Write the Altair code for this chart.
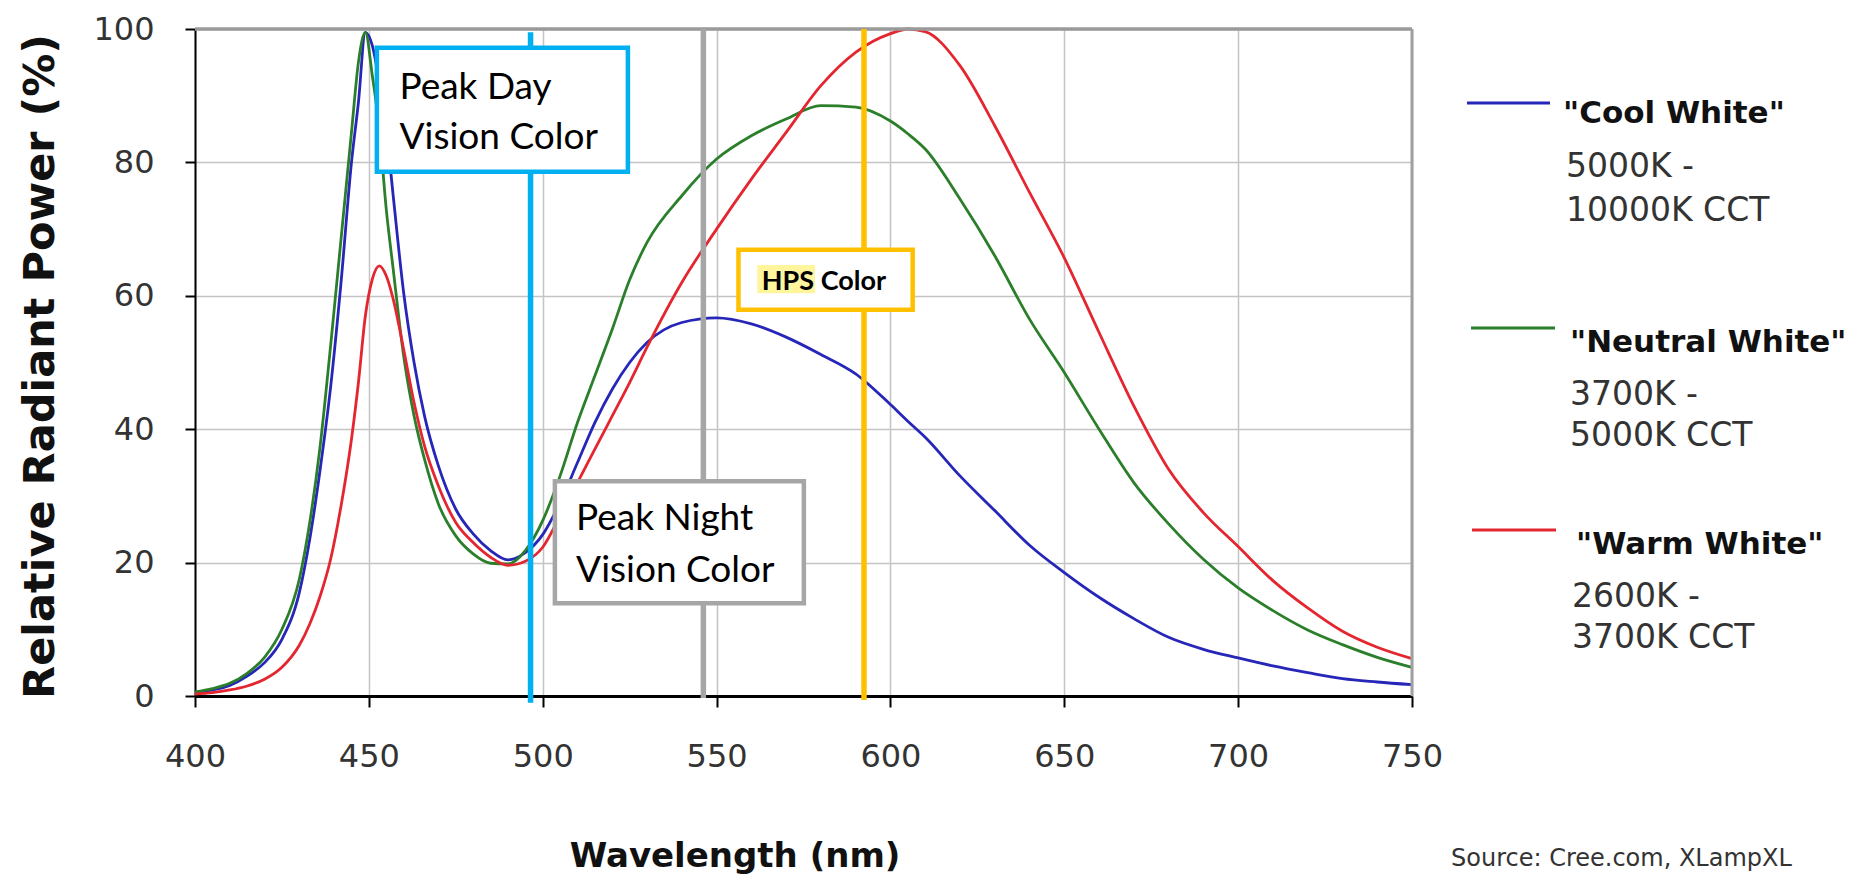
import altair as alt
import pandas as pd

# ---------------- data ----------------
wavelength = [400, 405, 410, 415, 420, 425, 430, 433, 436, 439, 442, 445, 447, 449,
              451, 453, 455, 457, 460, 463, 466, 470, 475, 480, 485, 490, 495, 500,
              505, 510, 515, 520, 525, 530, 540, 550, 560, 570, 580, 590, 600, 605,
              610, 620, 630, 640, 650, 660, 670, 680, 690, 700, 710, 720, 730, 740, 750]

cool_white = [0.5, 0.9, 1.6, 3.0, 5.0, 8.5, 15.5, 23.5, 34, 46.3, 62, 80, 89, 99.5,
              97.5, 92, 85, 75, 60.5, 50, 42, 34.5, 28, 24.3, 21.8, 20.4, 21.5, 24.2,
              29, 35, 41, 46, 50, 53, 56, 56.7, 55.8, 53.8, 51.2, 48.3, 43.7, 41.2,
              38.8, 33, 27.8, 22.6, 18.5, 14.8, 11.6, 8.8, 7.0, 5.7, 4.5, 3.5, 2.6, 2.1, 1.7]

neutral_white = [0.6, 1.1, 1.9, 3.4, 5.8, 10, 17.5, 26, 37.5, 52.5, 68.5, 84.5, 95, 99.5,
                 93, 85, 73, 64, 51, 42, 35.5, 28.8, 24, 21.3, 19.9, 19.8, 21.8, 26.3,
                 33, 41, 48, 55, 62.4, 68, 75, 80.5, 84, 86.5, 88.5, 88.3, 86.2, 84.3,
                 82, 74.5, 66, 56.5, 48.5, 40, 32, 25.8, 20.5, 16.2, 12.8, 9.9, 7.7, 5.8, 4.3]

warm_white = [0.3, 0.5, 0.9, 1.5, 2.5, 4.3, 7.6, 10.8, 15, 20.5, 28.5, 38.5, 47, 57,
              62.5, 64.5, 63, 59.5, 52, 44, 37.5, 31.5, 26, 23, 20.8, 19.6, 20.2, 22.3,
              27, 32, 37, 42, 47, 52.3, 62, 70, 77.5, 84.5, 91.5, 96.5, 99.3, 100,
              99.6, 94.5, 85.5, 75.5, 65.7, 54.5, 43.5, 34, 27.5, 22.4, 17.3, 13.2, 9.7, 7.3, 5.6]

series_names = ['"Cool White"', '"Neutral White"', '"Warm White"']
series_desc = ["5000K -\n10000K CCT", "3700K -\n5000K CCT", "2600K -\n3700K CCT"]
series_colors = ["#2626B8", "#2B7F2B", "#E3262F"]

x_ticks = [400, 450, 500, 550, 600, 650, 700, 750]
y_ticks = [0, 20, 40, 60, 80, 100]

# reference wavelength markers
marker_wl = [496.5, 546.2, 592.4]
marker_top = [99.5, 100, 100]
marker_bottom = [-1.0, -0.3, -0.6]
marker_colors = ["#00B0F0", "#A6A6A6", "#FFC000"]

# annotation boxes (data coordinates)
box_labels = ["Peak Day\nVision Color", "Peak Night\nVision Color", "HPS Color"]
box_x1 = [452.3, 503.5, 556.3]
box_x2 = [524.5, 575.1, 606.4]
box_y1 = [97.2, 32.2, 66.9]
box_y2 = [78.6, 13.9, 57.9]
label_x = [458.8, 509.6, 563.0]
label_y = [89.5, 24.9, 60.9]
hps_hl_x = [561.7, 578.3]
hps_hl_y = [64.6, 60.4]

source_text = "Source: Cree.com, XLampXL"

# ---------------- layout constants ----------------
PLOT_W, PLOT_H = 1217, 667
legend_line_x1 = [1272, 1276, 1277]
legend_line_x2 = [1355, 1360, 1361]
legend_line_y = [74, 299, 501]
legend_title_x = [1368, 1375, 1381]
legend_title_y = [93.6, 322.5, 525]
legend_sub_x = [1371, 1375, 1377]
legend_sub_y = [148, 376, 578]
legend_sub_lh = [44, 41, 41]

# ---------------- data table ----------------
rows = []
for name, vals in zip(series_names, [cool_white, neutral_white, warm_white]):
    for w, v in zip(wavelength, vals):
        rows.append({"wl": w, "val": v, "series": name})
df = pd.DataFrame(rows)

xscale = alt.Scale(domain=[400, 750], nice=False, zero=False)
yscale = alt.Scale(domain=[0, 100], nice=False, zero=False)

xaxis = alt.Axis(values=x_ticks, grid=True, gridColor="#C4C4C4", gridWidth=1.5,
                 domainColor="black", domainWidth=3, tickColor="black", tickWidth=2,
                 tickSize=11, labelFont="DejaVu Sans", labelFontSize=32, labelColor="#333333",
                 labelPadding=34, labelFlush=False, labelOverlap=False,
                 titleFont="DejaVu Sans", titleFontWeight="bold", titleFontSize=34,
                 titleColor="#111111", titleX=539.5, titleY=170, titleBaseline="alphabetic",
                 titleAlign="center")
yaxis = alt.Axis(values=y_ticks, grid=True, gridColor="#C4C4C4", gridWidth=1.5,
                 domainColor="black", domainWidth=2, tickColor="black", tickWidth=2,
                 tickSize=10, labelFont="DejaVu Sans", labelFontSize=32, labelColor="#333333",
                 labelPadding=31, labelFlush=False, labelOverlap=False,
                 titleFont="DejaVu Sans", titleFontWeight="bold", titleFontSize=43,
                 titleColor="#111111", titleX=-142, titleY=337, titleAngle=270,
                 titleBaseline="alphabetic", titleAlign="center")

XT = "Wavelength (nm)"
YT = "Relative Radiant Power (%)"


def X(f="wl"):
    return alt.X(f"{f}:Q", scale=xscale, axis=xaxis, title=XT)


def Y(f="val"):
    return alt.Y(f"{f}:Q", scale=yscale, axis=yaxis, title=YT)


layers = []

# curves
layers.append(
    alt.Chart(df).mark_line(strokeWidth=2.8, interpolate="monotone").encode(
        x=X(), y=Y(),
        color=alt.Color("series:N", scale=alt.Scale(domain=series_names, range=series_colors),
                        legend=None),
    )
)

# frame: top and right borders
layers.append(
    alt.Chart(pd.DataFrame({"wl": [400], "wl2": [750], "val": [100]}))
    .mark_rule(color="#9A9A9A", strokeWidth=3.5)
    .encode(x=X(), x2="wl2:Q", y=Y())
)
layers.append(
    alt.Chart(pd.DataFrame({"wl": [750], "val": [0], "val2": [100]}))
    .mark_rule(color="#A0A0A0", strokeWidth=3)
    .encode(x=X(), y=Y(), y2="val2:Q")
)

# vertical marker lines
for w, t, b, c in zip(marker_wl, marker_top, marker_bottom, marker_colors):
    layers.append(
        alt.Chart(pd.DataFrame({"wl": [w], "val": [t], "val2": [b]}))
        .mark_rule(color=c, strokeWidth=5.5)
        .encode(x=X(), y=Y(), y2="val2:Q")
    )

# annotation boxes
for x1, x2, y1, y2, c in zip(box_x1, box_x2, box_y1, box_y2, marker_colors):
    layers.append(
        alt.Chart(pd.DataFrame({"wl": [x1], "wl2": [x2], "val": [y1], "val2": [y2]}))
        .mark_rect(fill="white", stroke=c, strokeWidth=4.5)
        .encode(x=X(), x2="wl2:Q", y=Y(), y2="val2:Q")
    )

# HPS highlight
layers.append(
    alt.Chart(pd.DataFrame({"wl": [hps_hl_x[0]], "wl2": [hps_hl_x[1]],
                            "val": [hps_hl_y[0]], "val2": [hps_hl_y[1]]}))
    .mark_rect(fill="#FFF59D")
    .encode(x=X(), x2="wl2:Q", y=Y(), y2="val2:Q")
)

# box labels
for i, (lab, lx, ly) in enumerate(zip(box_labels, label_x, label_y)):
    if i < 2:
        mk = alt.Chart(pd.DataFrame({"wl": [lx], "val": [ly], "t": [lab]})).mark_text(
            font="Lato", fontSize=37, align="left", baseline="alphabetic",
            lineBreak="\n", lineHeight=50 if i == 0 else 52, color="black")
    else:
        mk = alt.Chart(pd.DataFrame({"wl": [lx], "val": [ly], "t": [lab]})).mark_text(
            font="Lato", fontSize=27, fontWeight="bold", align="left",
            baseline="alphabetic", color="black")
    layers.append(mk.encode(x=X(), y=Y(), text="t:N"))

# legend (drawn by hand, beside the plot)
dummy = pd.DataFrame({"d": [0]})
for i in range(3):
    layers.append(
        alt.Chart(dummy).mark_rule(color=series_colors[i], strokeWidth=2.8).encode(
            x=alt.value(legend_line_x1[i]), x2=alt.value(legend_line_x2[i]),
            y=alt.value(legend_line_y[i]))
    )
    layers.append(
        alt.Chart(dummy).mark_text(font="DejaVu Sans", fontSize=31, fontWeight="bold",
                                   align="left", baseline="alphabetic", color="#111111")
        .encode(x=alt.value(legend_title_x[i]), y=alt.value(legend_title_y[i]),
                text=alt.value(series_names[i]))
    )
    layers.append(
        alt.Chart(dummy).mark_text(font="DejaVu Sans", fontSize=33, align="left",
                                   baseline="alphabetic", color="#333333",
                                   lineBreak="\n", lineHeight=legend_sub_lh[i])
        .encode(x=alt.value(legend_sub_x[i]), y=alt.value(legend_sub_y[i]),
                text=alt.value(series_desc[i]))
    )

# source note at the bottom right
layers.append(
    alt.Chart(dummy).mark_text(font="DejaVu Sans", fontSize=24, align="left",
                               baseline="top", color="#333333")
    .encode(x=alt.value(1256), y=alt.value(818), text=alt.value(source_text))
)

chart = (
    alt.layer(*layers)
    .properties(width=PLOT_W, height=PLOT_H,
                autosize=alt.AutoSizeParams(type="none"),
                padding={"left": 187, "top": 21, "right": 440, "bottom": 178},
                background="white")
    .configure_view(stroke="transparent")
)

chart.save("out.html", embed_options={"renderer": "svg", "actions": False})
